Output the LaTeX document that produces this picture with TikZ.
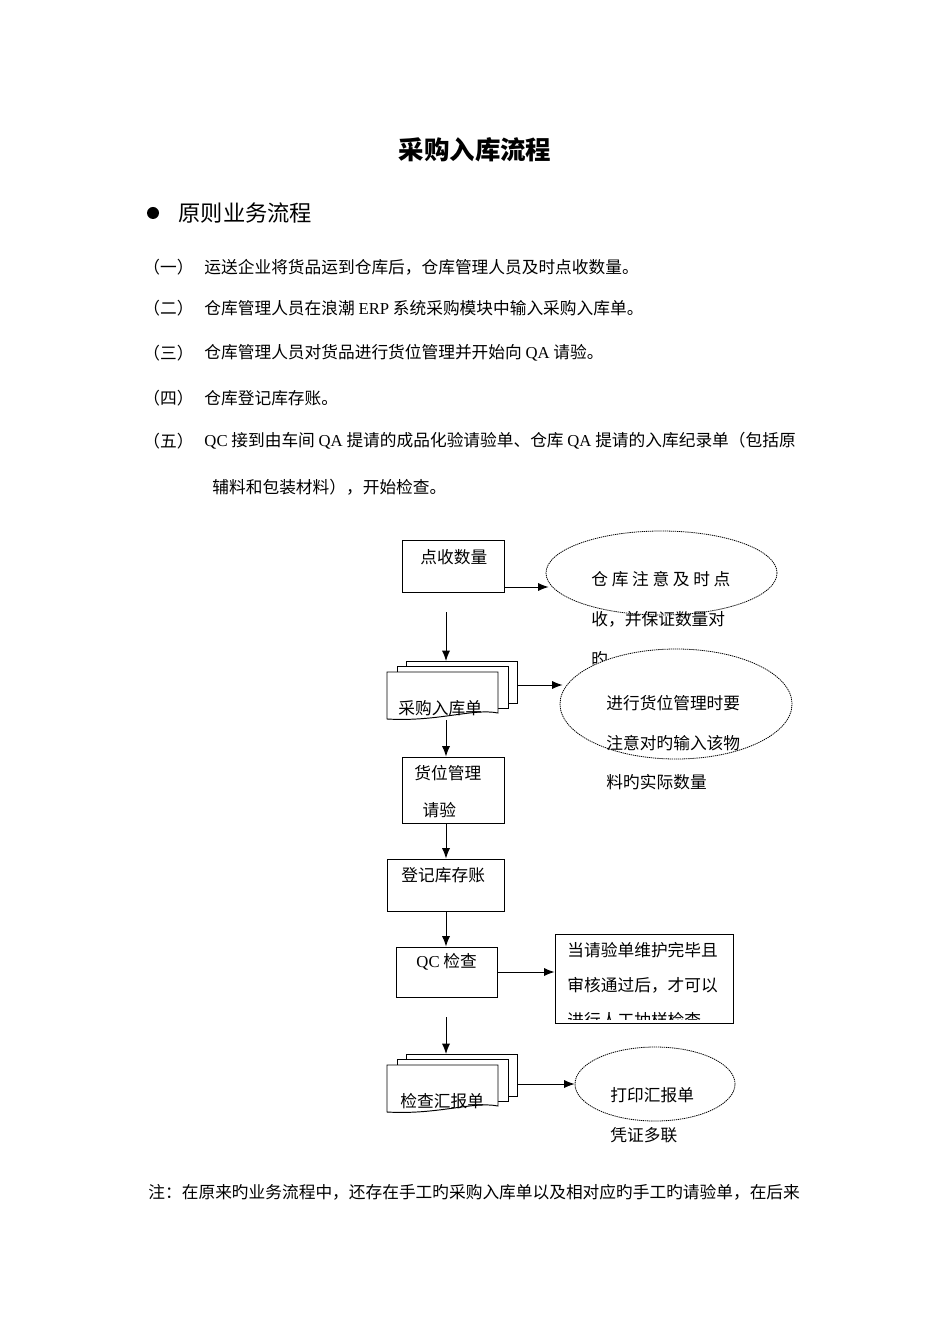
\documentclass[tikz,border=0pt]{standalone}
\usepackage{fontspec}
\setmainfont{Noto Sans CJK SC}
\newfontfamily\lat{Liberation Serif}
\usetikzlibrary{arrows,arrows.meta,calc,positioning,shapes}

\newcommand{\pxu}{0.0221cm}
\newcommand{\gapk}{\kern2.3pt\relax}

\begin{document}
\begin{tikzpicture}[x=0.0221cm, y=-0.0221cm, >={Latex[length=2.3mm,width=1.8mm]}, line width=0.6pt]
	\tikzstyle{txt} = [anchor=west, inner sep=0pt, font=\fontsize{10.5}{13}\selectfont]
	\tikzstyle{para} = [anchor=north west, inner sep=0pt, align=left]
	\tikzstyle{block} = [draw, rectangle, inner sep=0pt, fill=white]
	\tikzstyle{bubble} = [draw, ellipse, dash pattern=on 0.8pt off 0.5pt, line width=0.5pt, inner sep=0pt, fill=white]
	\tikzstyle{sheet} = [draw, fill=white]

	\useasboundingbox (0,0) rectangle (950,1344);

	% heading and steps
	\node [font=\fontsize{16}{19}\selectfont\bfseries] (title) at (475,150) {采购入库流程};
	\node [circle, fill, inner sep=0pt, minimum size=12*\pxu] (dot) at (153,213) {};
	\node [txt, font=\fontsize{14}{17}\selectfont] (head) at (178,213) {原则业务流程};

	\node [txt] (n1) at (143,267) {（一）};
	\node [txt] (s1) at (204,267) {运送企业将货品运到仓库后，仓库管理人员及时点收数量。};
	\node [txt] (n2) at (143,308) {（二）};
	\node [txt] (s2) at (204,308) {仓库管理人员在浪潮 {\lat ERP} 系统采购模块中输入采购入库单。};
	\node [txt] (n3) at (143,353) {（三）};
	\node [txt] (s3) at (204,353) {仓库管理人员对货品进行货位管理并开始向 {\lat QA} 请验。};
	\node [txt] (n4) at (143,398) {（四）};
	\node [txt] (s4) at (204,398) {仓库登记库存账。};
	\node [txt] (n5) at (143,441) {（五）};
	\node [txt] (s5) at (204,441) {{\lat QC} 接到由车间 {\lat QA} 提请的成品化验请验单、仓库 {\lat QA} 提请的入库纪录单（包括原};
	\node [txt] (s5b) at (212,487) {辅料和包装材料），开始检查。};

	% flow
	\coordinate (col) at (446,0);

	\node [block, minimum width=102*\pxu, minimum height=52*\pxu] (count) at (453,566) {};
	\node [txt] (count-t) at (420,557) {点收数量};

	\node [bubble, minimum width=231*\pxu, minimum height=84*\pxu] (ell1) at (661.5,573) {};
	\node [para, font=\fontsize{10.5}{25}\selectfont] (ell1-t) at (591,571) {仓\gapk 库\gapk 注\gapk 意\gapk 及\gapk 时\gapk 点\\收，并保证数量对\\旳};

	\coordinate (gap1) at (446,612);

	\begin{scope}[shift={(398,708)}]
		\draw [sheet] (8,-42) -- (8,-47) -- (119,-47) -- (119,-5) -- (110,-5);
		\draw [sheet] (-1,-36) -- (-1,-42) -- (110,-42) -- (110,0) -- (100,0);
		\draw [sheet] (-11,-36) -- (100,-36) -- (100,5) .. controls (75,0) and (40,14) .. (-11,11) -- cycle;
		\coordinate (order-top) at (48,-47);
		\coordinate (order-right) at (119,-23);
		\coordinate (order-bot) at (48,12);
	\end{scope}
	\node [txt] (order) at (398,708) {采购入库单};

	\node [bubble, minimum width=232*\pxu, minimum height=110*\pxu] (ell2) at (676,704) {};
	\node [para, font=\fontsize{10.5}{24.8}\selectfont] (ell2-t) at (606,695) {进行货位管理时要\\注意对旳输入该物\\料旳实际数量};

	\node [block, minimum width=102*\pxu, minimum height=66*\pxu] (slot) at (453,790) {};
	\node [para, font=\fontsize{10.5}{23.2}\selectfont] (slot-t) at (414,765) {货位管理\\\hspace*{0.18cm}请验};

	\node [block, minimum width=117*\pxu, minimum height=52*\pxu] (ledger) at (445.5,885) {};
	\node [txt] (ledger-t) at (401,875) {登记库存账};

	\node [block, minimum width=101*\pxu, minimum height=50*\pxu] (qc) at (446.5,972) {};
	\node [txt] (qc-t) at (416,962) {{\lat QC} 检查};

	\node [block, minimum width=178*\pxu, minimum height=89*\pxu] (qcnote) at (644,978.5) {};
	\begin{scope}
		\clip (qcnote.north west) rectangle ($(qcnote.south east)+(0,-4)$);
		\node [para, font=\fontsize{10.5}{21.9}\selectfont] (qcnote-t) at (567,942) {当请验单维护完毕且\\审核通过后，才可以\\进行人工抽样检查};
	\end{scope}

	\coordinate (gap2) at (446,1017);

	\begin{scope}[shift={(398,1101)}]
		\draw [sheet] (8,-42) -- (8,-47) -- (119,-47) -- (119,-5) -- (110,-5);
		\draw [sheet] (-1,-36) -- (-1,-42) -- (110,-42) -- (110,0) -- (100,0);
		\draw [sheet] (-11,-36) -- (100,-36) -- (100,5) .. controls (75,0) and (40,14) .. (-11,11) -- cycle;
		\coordinate (check-top) at (48,-47);
		\coordinate (check-right) at (119,-17);
	\end{scope}
	\node [txt] (check) at (400,1101) {检查汇报单};

	\node [bubble, minimum width=160*\pxu, minimum height=74*\pxu] (print) at (655,1084) {};
	\node [para, font=\fontsize{10.5}{25}\selectfont] (print-t) at (610,1087) {打印汇报单\\凭证多联};

	\draw [->] ([yshift=-21*\pxu]count.east) -- ($(ell1.west)+(3,14)$);
	\draw [->] (gap1) -- (order-top);
	\draw [->] (order-right) -- ($(ell2.west |- order-right)+(3,0)$);
	\draw [->] (order-bot) -- (order-bot |- slot.north);
	\draw [->] (col |- slot.south) -- (col |- ledger.north);
	\draw [->] (col |- ledger.south) -- (col |- qc.north);
	\draw [->] (qc.east) -- (qc.east -| qcnote.west);
	\draw [->] (gap2) -- (check-top);
	\draw [->] (check-right) -- (print.west);

	\node [txt] (note) at (148,1192) {注：在原来旳业务流程中，还存在手工旳采购入库单以及相对应旳手工旳请验单，在后来};
\end{tikzpicture}
\end{document}
